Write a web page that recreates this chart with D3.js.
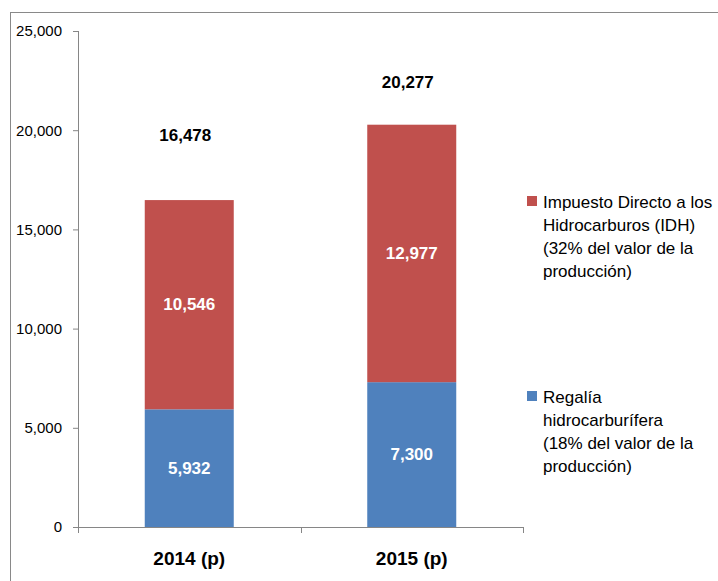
<!DOCTYPE html>
<html>
<head>
<meta charset="utf-8">
<script src="https://cdn.jsdelivr.net/npm/d3@7"></script>
<style>
body { margin:0; background:#fff; }
svg { display:block; font-family:"Liberation Sans", Arial, sans-serif; }
.tickText { font-size:15px; fill:#000; }
.total { font-size:17px; font-weight:bold; fill:#000; }
.inside { font-size:17px; font-weight:bold; fill:#fff; }
.catLabel { font-size:19px; font-weight:bold; fill:#000; }
.legendText { font-size:17px; fill:#000; }
</style>
</head>
<body>
<svg></svg>
<script>

//the data
var years = ["2014 (p)","2015 (p)"];
var regalia = [5932,7300];
var idh = [10546,12977];
var totals = [16478,20277];
var yTicks = [0,5000,10000,15000,20000,25000];

var seriesNames = ["Regalia","IDH"];
var seriesColors = ["#4F81BD","#C0504D"];
var legendLines = [
    ["Impuesto Directo a los","Hidrocarburos (IDH)","(32% del valor de la","producción)"],
    ["Regalía","hidrocarburífera","(18% del valor de la","producción)"]
];

var makeTranslateString = function(x,y)
{
    return "translate("+x+","+y+")";
}

//draws the stacked bars and the numbers inside them
var drawBars = function(target,xScale,yScale)
{
    var rows = years.map(function(year,i)
    {
        return {year:year,Regalia:regalia[i],IDH:idh[i]};
    });
    var stacked = d3.stack().keys(seriesNames)(rows);

    var layers = target.selectAll("g.layer")
        .data(stacked)
        .enter()
        .append("g")
        .classed("layer",true)
        .attr("fill",function(layer,i)
        {
            return seriesColors[i];
        });

    layers.selectAll("rect")
        .data(function(layer){ return layer; })
        .enter()
        .append("rect")
        .attr("x",function(d){ return xScale(d.data.year); })
        .attr("y",function(d){ return yScale(d[1]); })
        .attr("width",xScale.bandwidth())
        .attr("height",function(d){ return yScale(d[0])-yScale(d[1]); });

    layers.selectAll("text")
        .data(function(layer){ return layer; })
        .enter()
        .append("text")
        .classed("inside",true)
        .attr("text-anchor","middle")
        .attr("dominant-baseline","central")
        .attr("x",function(d){ return xScale(d.data.year)+xScale.bandwidth()/2; })
        .attr("y",function(d){ return (yScale(d[0])+yScale(d[1]))/2; })
        .text(function(d){ return d3.format(",")(d[1]-d[0]); });

    //totals float above each bar (placed by hand in the original)
    var lift = [59,37];
    target.selectAll("text.total")
        .data(totals)
        .enter()
        .append("text")
        .classed("total",true)
        .attr("text-anchor","middle")
        .attr("x",function(t,i){ return xScale(years[i])+xScale.bandwidth()/2-4; })
        .attr("y",function(t,i){ return yScale(t)-lift[i]; })
        .text(function(t){ return d3.format(",")(t); });
}

//axes in the grey excel look
var drawAxes = function(target,graph,xScale,yScale)
{
    var yAxis = d3.axisLeft(yScale)
        .tickValues(yTicks)
        .tickSize(5)
        .tickSizeOuter(0)
        .tickPadding(11)
        .tickFormat(d3.format(","));

    var yG = target.append("g").call(yAxis);
    yG.select(".domain").remove();
    yG.selectAll("line").attr("stroke","#868686");
    yG.selectAll("text").attr("class","tickText").attr("fill",null);
    yG.attr("font-family",null).attr("font-size",null);

    //vertical axis line, runs down to the category ticks
    target.append("line")
        .attr("x1",0.5).attr("x2",0.5)
        .attr("y1",yScale(yTicks[yTicks.length-1]))
        .attr("y2",graph.height+6)
        .attr("stroke","#868686");

    //horizontal axis line
    target.append("line")
        .attr("x1",-5).attr("x2",graph.width)
        .attr("y1",graph.height+0.5).attr("y2",graph.height+0.5)
        .attr("stroke","#868686");

    //category ticks sit between the bars
    var step = xScale.step();
    var bounds = years.map(function(y){ return xScale(y)-(step-xScale.bandwidth())/2; });
    bounds.push(graph.width);
    target.selectAll("line.catTick")
        .data(bounds)
        .enter()
        .append("line")
        .classed("catTick",true)
        .attr("x1",function(b){ return Math.round(b)+0.5; })
        .attr("x2",function(b){ return Math.round(b)+0.5; })
        .attr("y1",graph.height)
        .attr("y2",graph.height+6)
        .attr("stroke","#868686");

    target.selectAll("text.catLabel")
        .data(years)
        .enter()
        .append("text")
        .classed("catLabel",true)
        .attr("text-anchor","middle")
        .attr("x",function(y){ return xScale(y)+xScale.bandwidth()/2; })
        .attr("y",graph.height+38)
        .text(function(y){ return y; });
}

var drawLegend = function(svg)
{
    var tops = [196,391];
    var order = [1,0]; //IDH is listed first

    var entries = svg.append("g")
        .classed("legend",true)
        .selectAll("g")
        .data(order)
        .enter()
        .append("g")
        .attr("transform",function(s,i){ return makeTranslateString(527,tops[i]); });

    entries.append("rect")
        .attr("width",10)
        .attr("height",10)
        .attr("fill",function(s){ return seriesColors[s]; });

    entries.append("text")
        .classed("legendText",true)
        .attr("x",16)
        .attr("y",11.5)
        .selectAll("tspan")
        .data(function(s,i){ return legendLines[i]; })
        .enter()
        .append("tspan")
        .attr("x",16)
        .attr("dy",function(line,j){ return j==0 ? 0 : 23.3; })
        .text(function(line){ return line; });
}

var initGraph = function()
{
    var screen = {width:718,height:581};
    var margins = {left:78,right:195,top:31,bottom:54};

    var graph =
        {
            width:screen.width-margins.left-margins.right,
            height:screen.height-margins.top-margins.bottom
        };

    var svg = d3.select("svg")
        .attr("width",screen.width)
        .attr("height",screen.height);

    //chart border, cut off at the right and bottom like the source
    svg.append("rect")
        .attr("x",10.5).attr("y",12.5)
        .attr("width",900).attr("height",900)
        .attr("fill","none")
        .attr("stroke","#898989");

    var target = svg.append("g")
        .attr("id","graph")
        .attr("transform",makeTranslateString(margins.left,margins.top));

    var xScale = d3.scaleBand()
        .domain(years)
        .range([0,graph.width])
        .paddingInner(0.6)
        .paddingOuter(0.3);

    var yScale = d3.scaleLinear()
        .domain([0,25000])
        .range([graph.height,0]);

    drawBars(target,xScale,yScale);
    drawAxes(target,graph,xScale,yScale);
    drawLegend(svg);
}

initGraph();
</script>
</body>
</html>
